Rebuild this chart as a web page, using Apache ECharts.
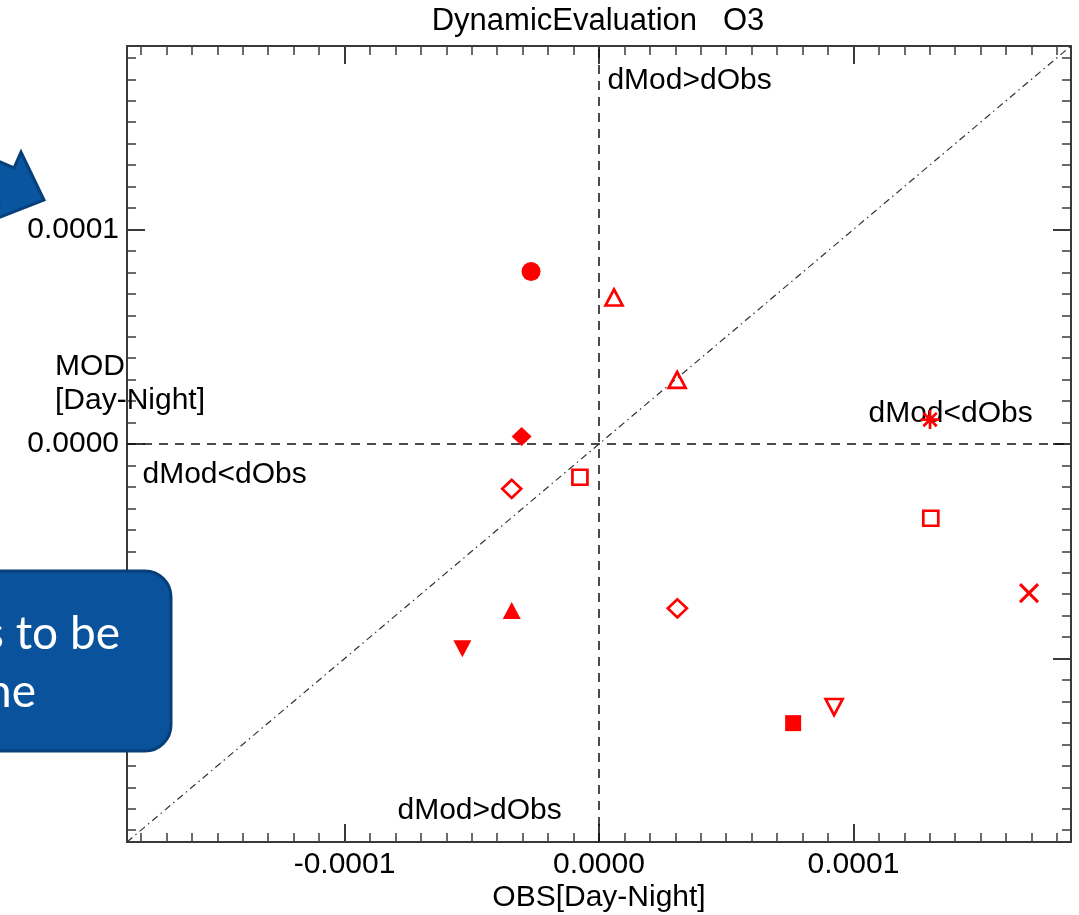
<!DOCTYPE html>
<html>
<head>
<meta charset="utf-8">
<title>DynamicEvaluation O3</title>
<script src="https://cdn.jsdelivr.net/npm/echarts@6/dist/echarts.min.js"></script>
<style>
  html, body { margin: 0; padding: 0; background: #fff; }
  #chart { width: 1079px; height: 915px; }
</style>
</head>
<body>
<div id="chart"></div>
<script>
  // O3 day-minus-night differences, observed (x) vs modelled (y)
  var obsDiff = [-0.267e-4, 0.059e-4, 0.307e-4, -0.304e-4, -0.343e-4, -0.075e-4, 1.301e-4,
                 1.304e-4, 1.690e-4, 0.308e-4, -0.343e-4, -0.537e-4, 0.924e-4, 0.763e-4];
  var modDiff = [0.804e-4, 0.683e-4, 0.299e-4, 0.035e-4, -0.209e-4, -0.155e-4, 0.114e-4,
                 -0.346e-4, -0.695e-4, -0.766e-4, -0.776e-4, -0.954e-4, -1.226e-4, -1.301e-4];
  var markerKind = ['dot', 'triangleOpen', 'triangleOpen', 'diamond', 'diamondOpen', 'squareOpen', 'asterisk',
                    'squareOpen', 'cross', 'diamondOpen', 'triangle', 'triangleDown', 'triangleDownOpen', 'square'];

  // quadrant notes
  var noteText = ['dMod>dObs', 'dMod<dObs', 'dMod<dObs', 'dMod>dObs'];
  var noteObs = [0.031e-4, -1.796e-4, 1.057e-4, -0.794e-4];
  var noteMod = [1.694e-4, -0.142e-4, 0.142e-4, -1.708e-4];

  var axisMin = -1.855e-4;
  var axisMax = 1.855e-4;

  var FONT = '"Liberation Sans", Arial, sans-serif';
  var RED = '#ff0000';
  var FRAME = '#3a3a3a';

  var markerLook = {
    dot:              {symbol: 'circle', size: 19},
    triangleOpen:     {symbol: 'triangle', size: [17, 16], open: true},
    diamond:          {symbol: 'diamond', size: [20, 19]},
    diamondOpen:      {symbol: 'diamond', size: [19, 18], open: true},
    squareOpen:       {symbol: 'rect', size: 15, open: true},
    asterisk:         {symbol: 'path://M5,0L5,10M0,5L10,5M1.5,1.5L8.5,8.5M8.5,1.5L1.5,8.5', size: 19, open: true},
    cross:            {symbol: 'path://M0,0L10,10M10,0L0,10', size: 18, open: true, width: 3},
    triangle:         {symbol: 'triangle', size: [18, 17]},
    triangleDown:     {symbol: 'triangle', size: [18, 17], rotate: 180},
    triangleDownOpen: {symbol: 'triangle', size: [17, 16], open: true, rotate: 180},
    square:           {symbol: 'rect', size: 16}
  };

  var points = obsDiff.map(function (x, i) {
    var look = markerLook[markerKind[i]];
    return {
      value: [x, modDiff[i]],
      symbol: look.symbol,
      symbolSize: look.size,
      symbolRotate: look.rotate || 0,
      itemStyle: look.open
        ? {color: 'none', borderColor: RED, borderWidth: look.width || 2.7, opacity: 1}
        : {color: RED, borderWidth: 0, opacity: 1}
    };
  });

  var notes = noteText.map(function (t, i) {
    return {name: t, value: [noteObs[i], noteMod[i]]};
  });

  function fmt(v) {
    return Math.abs(v) < 1e-12 ? '0.0000' : v.toFixed(4);
  }

  function frameAxis(pos, showLabels) {
    return {
      type: 'value',
      position: pos,
      min: axisMin,
      max: axisMax,
      axisLine: {show: true, onZero: false, lineStyle: {color: FRAME, width: 2}},
      axisTick: {show: true, inside: true, length: 18, lineStyle: {color: FRAME, width: 2}},
      minorTick: {show: true, splitNumber: 10, length: 9, lineStyle: {color: FRAME, width: 1.5}},
      splitLine: {show: false},
      minorSplitLine: {show: false},
      axisLabel: {
        show: showLabels,
        showMinLabel: false,
        showMaxLabel: false,
        formatter: fmt,
        fontFamily: FONT,
        fontSize: 30,
        color: '#000',
        margin: 8
      }
    };
  }

  var chart = echarts.init(document.getElementById('chart'));
  chart.setOption({
    animation: false,
    backgroundColor: '#fff',
    grid: {left: 127, right: 8, top: 46, bottom: 73, containLabel: false, outerBoundsMode: 'none'},
    xAxis: [frameAxis('bottom', true), frameAxis('top', false)],
    yAxis: [frameAxis('left', true), frameAxis('right', false)],
    series: [
      {
        name: 'stations',
        type: 'scatter',
        z: 5,
        data: points,
        markLine: {
          silent: true,
          symbol: 'none',
          animation: false,
          label: {show: false},
          data: [
            {xAxis: 0, lineStyle: {type: [9, 7], color: '#111', width: 1.5}},
            {yAxis: 0, lineStyle: {type: [9, 7], color: '#111', width: 1.5}},
            [
              {coord: [axisMin, axisMin], lineStyle: {type: [7, 4, 1.5, 4], color: '#333', width: 1.2}},
              {coord: [axisMax, axisMax]}
            ]
          ]
        }
      },
      {
        name: 'notes',
        type: 'scatter',
        silent: true,
        z: 4,
        symbolSize: 1,
        itemStyle: {color: 'rgba(0,0,0,0)', opacity: 1},
        data: notes,
        label: {
          show: true,
          position: 'right',
          distance: 0,
          formatter: '{b}',
          fontFamily: FONT,
          fontSize: 30,
          color: '#000',
          opacity: 1
        }
      }
    ],
    graphic: [
      {
        type: 'text', x: 598, y: 21, z: 100,
        style: {text: 'DynamicEvaluation   O3', font: '31px ' + FONT, fill: '#000',
                textAlign: 'center', textVerticalAlign: 'middle'}
      },
      {
        type: 'text', x: 599, y: 898, z: 100,
        style: {text: 'OBS[Day-Night]', font: '30px ' + FONT, fill: '#000',
                textAlign: 'center', textVerticalAlign: 'middle'}
      },
      {
        type: 'text', x: 55, y: 350, z: 100,
        style: {text: 'MOD\n[Day-Night]', font: '30px ' + FONT, fill: '#000', lineHeight: 34}
      },
      {
        // slide arrow pointing at the axis
        type: 'polygon', z: 100,
        shape: {points: [[-78, 128], [14, 168], [21, 152], [44, 200], [-7, 220], [-1, 205], [-93, 166]]},
        style: {fill: '#0a559f', stroke: '#063f79', lineWidth: 3}
      },
      {
        // slide callout box
        type: 'rect', z: 100,
        shape: {x: -30, y: 571, width: 201, height: 180, r: 26},
        style: {fill: '#0a539c', stroke: '#063f79', lineWidth: 3}
      },
      {
        type: 'text', x: 120, y: 634, z: 101,
        style: {text: 's to be', font: '46px Lato, "Open Sans", sans-serif', fill: '#fff',
                textAlign: 'right', textVerticalAlign: 'middle'}
      },
      {
        type: 'text', x: 36, y: 692, z: 101,
        style: {text: 'ne', font: '46px Lato, "Open Sans", sans-serif', fill: '#fff',
                textAlign: 'right', textVerticalAlign: 'middle'}
      }
    ]
  });
</script>
</body>
</html>
